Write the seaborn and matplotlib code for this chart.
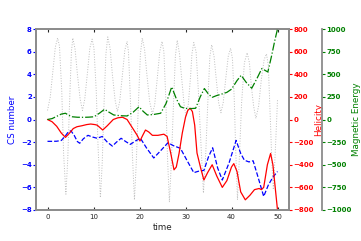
import matplotlib
matplotlib.use("Agg")
import matplotlib.pyplot as plt
import numpy as np
import pandas as pd
import seaborn as sns

# ---------------- data ----------------
t_gray = [0.0, 0.6, 1.1, 1.7, 2.2, 2.6, 3.1, 3.5, 4.0, 4.4, 4.8, 5.2, 5.5, 6.0, 6.5, 7.1, 7.6,
          8.1, 8.7, 9.2, 9.7, 10.1, 10.6, 11.0, 11.5, 11.9, 12.3, 12.7, 13.1, 13.6, 14.1, 14.7, 15.2,
          15.7, 16.3, 16.8, 17.3, 17.6, 18.0, 18.5, 18.9, 19.3, 19.8, 20.2, 20.6, 21.1, 21.6, 22.2, 22.8,
          23.3, 23.9, 24.4, 24.9, 25.3, 25.7, 26.1, 26.5, 26.9, 27.4, 27.8, 28.2, 28.7, 29.2, 29.7, 30.1,
          30.6, 31.1, 31.4, 31.8, 32.3, 32.8, 33.4, 33.9, 34.4, 34.9, 35.3, 35.7, 36.2, 36.7, 37.2, 37.7,
          38.2, 38.8, 39.3, 39.8, 40.2, 40.6, 40.9, 41.3, 41.7, 42.2, 42.8, 43.4, 43.9, 44.3, 44.8, 45.3,
          45.9, 46.5, 47.1, 47.6, 48.0, 48.4, 48.8, 49.1, 49.5, 50.0]
v_gray = [0.8, 2.0, 4.0, 6.4, 7.2, 6.5, 2.5, -3.0, -6.6, -3.5, 1.5, 6.0, 7.2, 6.2, 4.0, 1.8, 0.8,
          1.8, 4.2, 6.3, 7.1, 6.3, 2.5, -2.5, -6.9, -3.8, 1.5, 5.8, 7.3, 6.3, 4.0, 1.7, 0.7,
          1.6, 4.0, 6.1, 6.9, 6.0, 2.0, -3.5, -7.1, -3.8, 1.8, 5.8, 7.2, 6.2, 4.0, 1.6, 0.5,
          1.3, 3.8, 6.0, 6.9, 6.0, 2.0, -3.5, -7.3, -4.0, 1.5, 5.6, 7.0, 5.8, 3.5, 1.3, 0.3,
          1.3, 3.8, 5.8, 6.8, 6.0, 2.5, -2.5, -6.5, -3.0, 2.0, 5.6, 6.6, 5.6, 3.5, 1.5, 0.6,
          1.5, 3.8, 5.6, 6.3, 5.4, 1.8, -2.5, -7.1, -3.5, 1.5, 5.0, 5.9, 5.0, 3.0, 1.2, 0.1,
          1.2, 3.6, 5.3, 5.8, 4.8, 0.5, -4.0, -6.2, -3.0, 1.7]

t_cs = [0.0, 1.0, 2.0, 3.0, 3.8, 4.5, 5.1, 5.8, 6.5, 7.0, 7.8, 8.8, 9.8, 10.8, 11.9, 13.0, 14.1,
        15.0, 16.0, 17.0, 18.0, 19.1, 20.2, 21.5, 23.1, 24.5, 26.2, 27.3, 28.9, 30.3, 31.8, 33.0,
        34.0, 35.0, 35.9, 37.0, 38.0, 39.5, 41.0, 42.0, 42.8, 43.8, 44.7, 45.7, 47.0, 48.0, 49.0, 50.0]
cs_number = [-1.93, -1.93, -1.92, -1.85, -1.5, -1.1, -1.0, -1.4, -1.95, -2.1, -1.7, -1.4, -1.55,
             -1.66, -1.5, -2.0, -2.35, -2.0, -1.66, -1.95, -2.2, -1.9, -1.66, -2.5, -3.4, -2.8,
             -2.05, -2.3, -2.55, -3.6, -4.7, -4.55, -4.5, -3.3, -2.5, -4.3, -5.35, -3.8, -1.85,
             -3.0, -3.6, -3.75, -3.65, -5.0, -6.8, -5.8, -5.1, -4.6]

t_hel = [0.0, 1.0, 2.0, 3.0, 3.9, 4.8, 5.6, 6.4, 7.5, 8.5, 9.4, 10.3, 10.8, 12.0, 13.0, 14.3,
         15.3, 16.3, 17.3, 18.4, 19.5, 20.1, 20.7, 21.3, 22.0, 22.8, 24.0, 25.3, 26.0, 26.8, 27.5,
         28.0, 28.6, 29.3, 30.0, 30.5, 31.0, 31.5, 32.0, 32.5, 33.3, 34.0, 34.8, 35.8, 36.8, 38.0,
         39.0, 40.0, 40.5, 41.2, 42.0, 43.0, 44.0, 45.0, 46.0, 46.5, 47.0, 47.8, 48.5, 49.0, 49.5, 50.0]
helicity = [0, -20, -60, -120, -158, -120, -80, -64, -55, -45, -40, -45, -50, -93, -55, 0,
            15, 20, 0, -70, -140, -190, -140, -93, -110, -140, -140, -130, -150, -300, -445,
            -420, -300, -120, 20, 80, 100, 70, -50, -296, -430, -535, -470, -400, -500, -600,
            -540, -420, -390, -460, -640, -710, -670, -620, -610, -620, -600, -400, -300, -400, -600, -800]

t_mag = [0.0, 1.0, 2.0, 3.0, 3.9, 4.7, 5.4, 6.5, 7.9, 9.0, 10.1, 11.3, 12.4, 13.4, 14.4, 15.8,
         17.3, 18.6, 19.9, 20.8, 21.7, 23.0, 24.6, 25.8, 27.0, 28.0, 28.9, 29.8, 31.0, 32.2, 33.2,
         34.1, 35.0, 35.8, 36.8, 37.8, 39.0, 40.0, 41.2, 42.1, 43.2, 44.4, 45.5, 46.6, 47.9, 48.7,
         49.4, 50.0]
mag_energy = [0, 10, 35, 60, 69, 45, 30, 25, 24, 26, 30, 70, 113, 80, 50, 42,
              39, 80, 141, 90, 50, 55, 69, 180, 360, 230, 141, 124, 120, 124, 250,
              342, 280, 245, 265, 280, 300, 335, 430, 488, 410, 345, 450, 563, 525, 700,
              870, 1000]

x_ticks = [0, 10, 20, 30, 40, 50]
cs_ticks = [-8, -6, -4, -2, 0, 2, 4, 6, 8]
hel_ticks = [-800, -600, -400, -200, 0, 200, 400, 600, 800]
mag_ticks = [-1000, -750, -500, -250, 0, 250, 500, 750, 1000]

# ---------------- figure ----------------
sns.set_style("ticks")
plt.rcParams['font.family'] = ['DejaVu Sans']

W, H = 361, 241
fig = plt.figure(figsize=(W / 100, H / 100), dpi=100)
ax = fig.add_axes([36 / W, (H - 210) / H, 253 / W, 181 / H])

df_gray = pd.DataFrame({"t": t_gray, "v": v_gray})
df_cs = pd.DataFrame({"t": t_cs, "v": cs_number})
df_hel = pd.DataFrame({"t": t_hel, "v": helicity})
df_mag = pd.DataFrame({"t": t_mag, "v": mag_energy})

sns.lineplot(data=df_gray, x="t", y="v", ax=ax, color="#bdbdbd", linestyle=":", linewidth=0.7)
sns.lineplot(data=df_cs, x="t", y="v", ax=ax, color="blue", linestyle="--", linewidth=0.9)

ax2 = ax.twinx()
sns.lineplot(data=df_hel, x="t", y="v", ax=ax2, color="red", linewidth=0.9)

ax3 = ax.twinx()
ax3.spines["right"].set_position(("outward", 33 * 0.72))
sns.lineplot(data=df_mag, x="t", y="v", ax=ax3, color="green", linestyle="-.", linewidth=0.9)

ax.set_xlim(-2.5, 52.5)
ax.set_ylim(-8, 8)
ax2.set_ylim(-800, 800)
ax3.set_ylim(-1000, 1000)
ax.set_xticks(x_ticks)
ax.set_yticks(cs_ticks)
ax2.set_yticks(hel_ticks)
ax3.set_yticks(mag_ticks)

fs_lab, fs_tick = 6.3, 5
ax.set_xlabel("time", fontsize=fs_lab, labelpad=2)
ax.set_ylabel("CS number", fontsize=fs_lab, color="blue", labelpad=3)
ax2.set_ylabel("Helicity", fontsize=fs_lab, color="red", labelpad=0)
ax3.set_ylabel("Magnetic Energy", fontsize=fs_lab, color="green", labelpad=0)

ax.tick_params(axis="x", direction="in", top=True, length=2.5, width=0.8,
               labelsize=fs_tick, pad=3)
ax.tick_params(axis="y", direction="out", length=2, width=0.8, colors="blue",
               labelsize=fs_tick, pad=1)
ax2.tick_params(axis="y", direction="out", length=2, width=0.8, colors="red",
                labelsize=fs_tick, pad=1)
ax3.tick_params(axis="y", direction="out", length=2, width=0.8, colors="green",
                labelsize=fs_tick, pad=1)
for a in (ax, ax2, ax3):
    for lbl in a.get_yticklabels():
        lbl.set_fontweight("bold")

for a in (ax, ax2, ax3):
    for s in a.spines.values():
        s.set_color("#8c8c8c")
        s.set_linewidth(1.3)
ax3.spines["left"].set_visible(False)
ax3.spines["top"].set_visible(False)
ax3.spines["bottom"].set_visible(False)

fig.savefig("out.png", dpi=100)
